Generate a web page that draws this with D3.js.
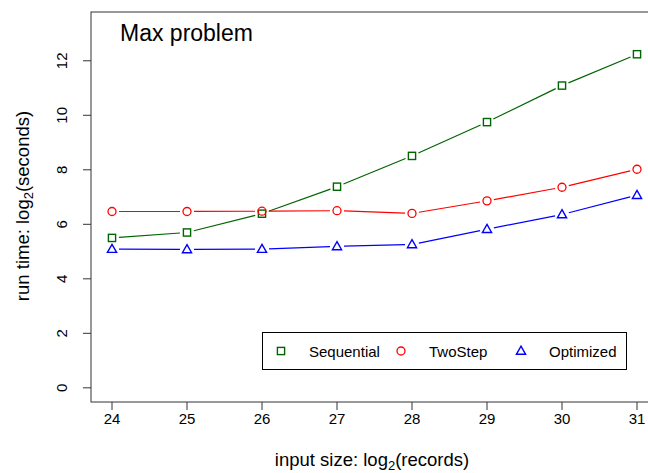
<!DOCTYPE html>
<html>
<head>
<meta charset="utf-8">
<script src="https://cdn.jsdelivr.net/npm/d3@7"></script>
<style>
body{margin:0;background:#fff;}
text{font-family:"Liberation Sans",Arial,sans-serif;}
</style>
</head>
<body>
<div id="chart"></div>
<script>
var sizes = [24,25,26,27,28,29,30,31];
var sequential = [5.50,5.70,6.39,7.38,8.51,9.75,11.09,12.24];
var twoStep = [6.47,6.47,6.48,6.50,6.40,6.86,7.36,8.02];
var optimized = [5.09,5.08,5.09,5.19,5.26,5.82,6.36,7.07];
var yTicks = [0,2,4,6,8,10,12];
var seriesNames = ["Sequential","TwoStep","Optimized"];

var W = 648, H = 473;
var svg = d3.select("#chart").append("svg").attr("width",W).attr("height",H);

var x = d3.scaleLinear().domain([23.72,31.28]).range([91,658]);
var y = d3.scaleLinear().domain([-0.52,13.79]).range([402,12]);

var series = [
	{name:seriesNames[0], values:sequential, color:"#006400", shape:"square"},
	{name:seriesNames[1], values:twoStep, color:"#ff0000", shape:"circle"},
	{name:seriesNames[2], values:optimized, color:"#0000ff", shape:"triangle"}
];

function drawMark(g,shape,cx,cy,color){
	if(shape=="square"){
		g.append("rect").attr("x",cx-3.6).attr("y",cy-3.6).attr("width",7.2).attr("height",7.2)
			.attr("fill","none").attr("stroke",color).attr("stroke-width",1.4);
	}else if(shape=="circle"){
		g.append("circle").attr("cx",cx).attr("cy",cy).attr("r",4)
			.attr("fill","none").attr("stroke",color).attr("stroke-width",1.3);
	}else{
		g.append("path").attr("d","M"+cx+","+(cy-4.8)+"L"+(cx+4.6)+","+(cy+3.3)+"L"+(cx-4.6)+","+(cy+3.3)+"Z")
			.attr("fill","none").attr("stroke",color).attr("stroke-width",1.4);
	}
}

// lines with gaps around the points, like R type="b"
var gap = 7;
series.forEach(function(s){
	var g = svg.append("g");
	for(var i=0;i<sizes.length-1;i++){
		var x1 = x(sizes[i]), y1 = y(s.values[i]);
		var x2 = x(sizes[i+1]), y2 = y(s.values[i+1]);
		var d = Math.sqrt((x2-x1)*(x2-x1)+(y2-y1)*(y2-y1));
		var ux = (x2-x1)/d, uy = (y2-y1)/d;
		g.append("line")
			.attr("x1",x1+ux*gap).attr("y1",y1+uy*gap)
			.attr("x2",x2-ux*gap).attr("y2",y2-uy*gap)
			.attr("stroke",s.color).attr("stroke-width",1.2);
	}
	sizes.forEach(function(v,i){
		drawMark(g,s.shape,x(v),y(s.values[i]),s.color);
	});
});

// box
svg.append("rect").attr("x",91).attr("y",12).attr("width",567).attr("height",390)
	.attr("fill","none").attr("stroke","#333").attr("stroke-width",1);

// x axis
var xAxis = svg.append("g");
sizes.forEach(function(v){
	xAxis.append("line").attr("x1",x(v)).attr("x2",x(v)).attr("y1",402).attr("y2",410)
		.attr("stroke","#333");
	xAxis.append("text").attr("x",x(v)).attr("y",424).attr("text-anchor","middle")
		.attr("font-size",15).text(v);
});

// y axis
var yAxis = svg.append("g");
yTicks.forEach(function(v){
	yAxis.append("line").attr("x1",83).attr("x2",91).attr("y1",y(v)).attr("y2",y(v))
		.attr("stroke","#333");
	yAxis.append("text").attr("transform","translate(67,"+y(v)+") rotate(-90)")
		.attr("text-anchor","middle").attr("font-size",15).text(v);
});

// axis titles
var xl = svg.append("text").attr("x",372).attr("y",466).attr("text-anchor","middle").attr("font-size",18.5);
xl.append("tspan").text("input size: log");
xl.append("tspan").attr("font-size",13).attr("dy",4).text("2");
xl.append("tspan").attr("dy",-4).text("(records)");

var yl = svg.append("text").attr("transform","translate(29,206) rotate(-90)").attr("text-anchor","middle").attr("font-size",18.5);
yl.append("tspan").text("run time: log");
yl.append("tspan").attr("font-size",13).attr("dy",4).text("2");
yl.append("tspan").attr("dy",-4).text("(seconds)");

// title
svg.append("text").attr("x",120).attr("y",41).attr("font-size",23).text("Max problem");

// legend
var lg = svg.append("g");
lg.append("rect").attr("x",262.5).attr("y",332.5).attr("width",364).attr("height",37)
	.attr("fill","#fff").attr("stroke","#000").attr("stroke-width",1);
var legX = [281,401,521];
series.forEach(function(s,i){
	drawMark(lg,s.shape,legX[i],351,s.color);
	lg.append("text").attr("x",legX[i]+28).attr("y",357).attr("font-size",15).text(s.name);
});
</script>
</body>
</html>
